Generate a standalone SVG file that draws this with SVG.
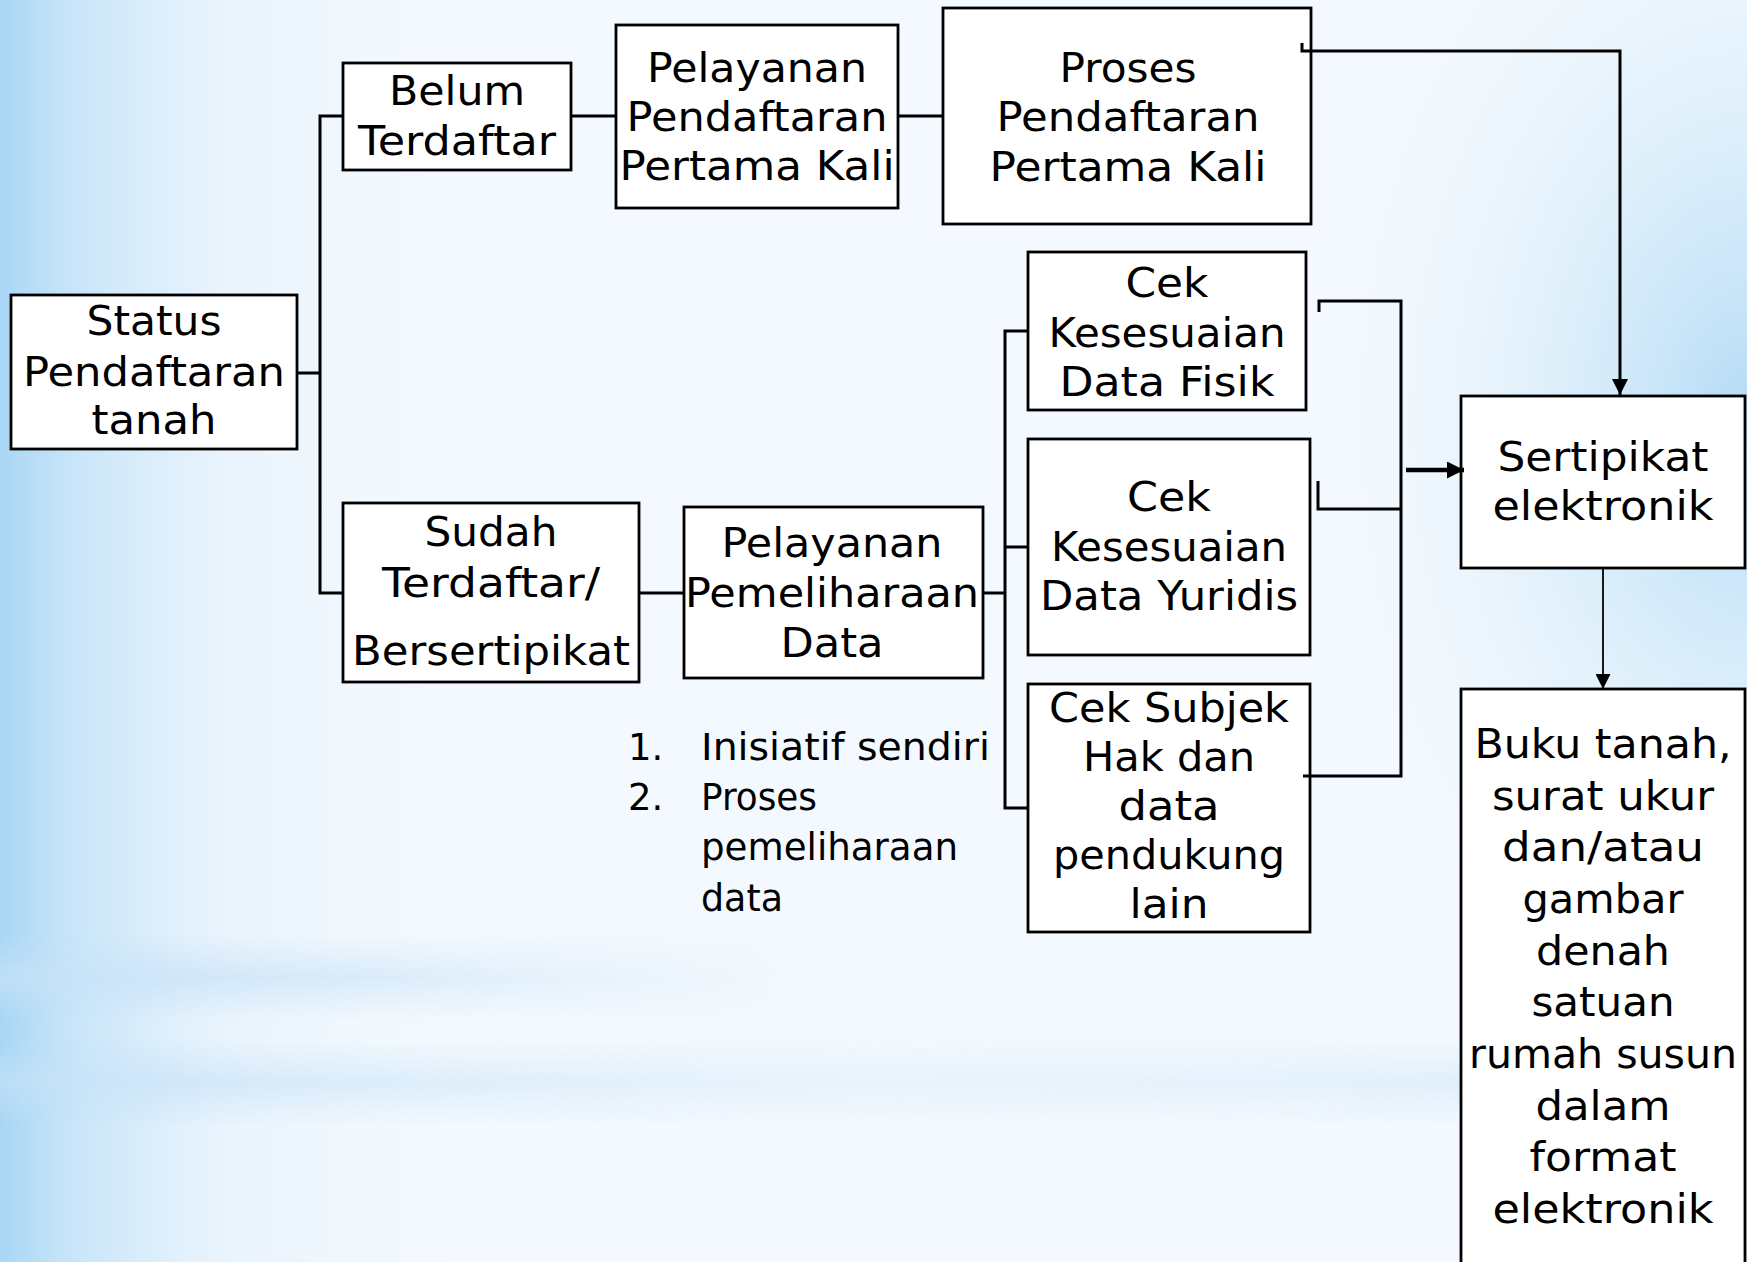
<svg xmlns="http://www.w3.org/2000/svg" width="1747" height="1262" viewBox="0 0 1747 1262">
  <defs>
    <linearGradient id="gLeft" gradientUnits="userSpaceOnUse" x1="0" y1="0" x2="650" y2="0">
      <stop offset="0" stop-color="#a8d6f5" stop-opacity="1"/>
      <stop offset="0.12" stop-color="#bfe1f8" stop-opacity="0.8"/>
      <stop offset="0.35" stop-color="#dcedfb" stop-opacity="0.45"/>
      <stop offset="0.7" stop-color="#eef6fd" stop-opacity="0"/>
    </linearGradient>
    <radialGradient id="gRight" gradientUnits="userSpaceOnUse" cx="1747" cy="420" r="420" gradientTransform="translate(1747 420) scale(1 1.5) translate(-1747 -420)">
      <stop offset="0" stop-color="#b3dbf6" stop-opacity="1"/>
      <stop offset="0.5" stop-color="#d3eaf9" stop-opacity="0.6"/>
      <stop offset="1" stop-color="#eef6fd" stop-opacity="0"/>
    </radialGradient>
    <linearGradient id="gBand1" gradientUnits="userSpaceOnUse" x1="0" y1="935" x2="0" y2="1020">
      <stop offset="0" stop-color="#c6e2f8" stop-opacity="0"/>
      <stop offset="0.5" stop-color="#c6e2f8" stop-opacity="0.75"/>
      <stop offset="1" stop-color="#c6e2f8" stop-opacity="0"/>
    </linearGradient>
    <linearGradient id="gBand2" gradientUnits="userSpaceOnUse" x1="0" y1="1040" x2="0" y2="1125">
      <stop offset="0" stop-color="#c6e2f8" stop-opacity="0"/>
      <stop offset="0.5" stop-color="#c6e2f8" stop-opacity="0.7"/>
      <stop offset="1" stop-color="#c6e2f8" stop-opacity="0"/>
    </linearGradient>
    <linearGradient id="gFade1" gradientUnits="userSpaceOnUse" x1="0" y1="0" x2="1747" y2="0">
      <stop offset="0" stop-color="#fff" stop-opacity="1"/>
      <stop offset="0.2" stop-color="#fff" stop-opacity="0.8"/>
      <stop offset="0.45" stop-color="#fff" stop-opacity="0"/>
    </linearGradient>
    <linearGradient id="gFade2" gradientUnits="userSpaceOnUse" x1="0" y1="0" x2="1747" y2="0">
      <stop offset="0" stop-color="#fff" stop-opacity="1"/>
      <stop offset="0.25" stop-color="#fff" stop-opacity="0.7"/>
      <stop offset="0.5" stop-color="#fff" stop-opacity="0.35"/>
      <stop offset="0.75" stop-color="#fff" stop-opacity="0.5"/>
      <stop offset="1" stop-color="#fff" stop-opacity="0.9"/>
    </linearGradient>
    <mask id="mBand1">
      <rect x="0" y="0" width="1747" height="1262" fill="url(#gFade1)"/>
    </mask>
    <mask id="mBand2">
      <rect x="0" y="0" width="1747" height="1262" fill="url(#gFade2)"/>
    </mask>
    <marker id="arr" viewBox="0 0 10 10" refX="10" refY="5" markerUnits="userSpaceOnUse" markerWidth="16" markerHeight="16" orient="auto">
      <path d="M0,0 L10,5 L0,10 z" fill="#000"/>
    </marker>
    <marker id="arrT" viewBox="0 0 10 10" refX="10" refY="5" markerUnits="userSpaceOnUse" markerWidth="17" markerHeight="17" orient="auto">
      <path d="M0,0 L10,5 L0,10 z" fill="#000"/>
    </marker>
    <marker id="arrS" viewBox="0 0 10 10" refX="10" refY="5" markerUnits="userSpaceOnUse" markerWidth="15" markerHeight="15" orient="auto">
      <path d="M0,0 L10,5 L0,10 z" fill="#000"/>
    </marker>
  </defs>
  <style>
    .box { fill: #ffffff; stroke: #000000; stroke-width: 2.8; }
    .t { font-family: "DejaVu Sans", Verdana, sans-serif; font-size: 41px; text-anchor: middle; fill: #000000; }
    .l { font-family: "DejaVu Sans", Verdana, sans-serif; font-size: 37px; fill: #000000; }
    .c { fill: none; stroke: #000000; stroke-width: 3; }
  </style>

  <g id="background">
    <rect x="0" y="0" width="1747" height="1262" fill="#f3f9fe"/>
    <rect x="0" y="0" width="1747" height="1262" fill="url(#gLeft)"/>
    <rect x="0" y="0" width="1747" height="1262" fill="url(#gRight)"/>
    <rect x="0" y="935" width="1747" height="85" fill="url(#gBand1)" mask="url(#mBand1)"/>
    <rect x="0" y="1040" width="1747" height="85" fill="url(#gBand2)" mask="url(#mBand2)"/>
  </g>

  <g id="status">
    <rect class="box" x="11" y="295" width="286" height="154"/>
    <text class="t" x="154" y="335" textLength="135" lengthAdjust="spacingAndGlyphs">Status</text>
    <text class="t" x="154" y="386" textLength="262" lengthAdjust="spacingAndGlyphs">Pendaftaran</text>
    <text class="t" x="154" y="434" textLength="125" lengthAdjust="spacingAndGlyphs">tanah</text>
  </g>

  <g id="belum">
    <rect class="box" x="343" y="63" width="228" height="107"/>
    <text class="t" x="457" y="105" textLength="136" lengthAdjust="spacingAndGlyphs">Belum</text>
    <text class="t" x="457" y="155" textLength="198" lengthAdjust="spacingAndGlyphs">Terdaftar</text>
  </g>

  <g id="pelayanan-pendaftaran">
    <rect class="box" x="616" y="25" width="282" height="183"/>
    <text class="t" x="757" y="82" textLength="220" lengthAdjust="spacingAndGlyphs">Pelayanan</text>
    <text class="t" x="757" y="131" textLength="261" lengthAdjust="spacingAndGlyphs">Pendaftaran</text>
    <text class="t" x="757" y="180" textLength="275" lengthAdjust="spacingAndGlyphs">Pertama Kali</text>
  </g>

  <g id="proses-pendaftaran">
    <rect class="box" x="943" y="8" width="368" height="216"/>
    <text class="t" x="1128" y="82" textLength="137" lengthAdjust="spacingAndGlyphs">Proses</text>
    <text class="t" x="1128" y="131" textLength="263" lengthAdjust="spacingAndGlyphs">Pendaftaran</text>
    <text class="t" x="1128" y="181" textLength="277" lengthAdjust="spacingAndGlyphs">Pertama Kali</text>
  </g>

  <g id="cek-fisik">
    <rect class="box" x="1028" y="252" width="278" height="158"/>
    <text class="t" x="1167" y="297" textLength="83" lengthAdjust="spacingAndGlyphs">Cek</text>
    <text class="t" x="1167" y="347" textLength="237" lengthAdjust="spacingAndGlyphs">Kesesuaian</text>
    <text class="t" x="1167" y="396" textLength="215" lengthAdjust="spacingAndGlyphs">Data Fisik</text>
  </g>

  <g id="cek-yuridis">
    <rect class="box" x="1028" y="439" width="282" height="216"/>
    <text class="t" x="1169" y="511" textLength="84" lengthAdjust="spacingAndGlyphs">Cek</text>
    <text class="t" x="1169" y="561" textLength="236" lengthAdjust="spacingAndGlyphs">Kesesuaian</text>
    <text class="t" x="1169" y="610" textLength="258" lengthAdjust="spacingAndGlyphs">Data Yuridis</text>
  </g>

  <g id="cek-subjek">
    <rect class="box" x="1028" y="684" width="282" height="248"/>
    <text class="t" x="1169" y="722" textLength="240" lengthAdjust="spacingAndGlyphs">Cek Subjek</text>
    <text class="t" x="1169" y="771" textLength="172" lengthAdjust="spacingAndGlyphs">Hak dan</text>
    <text class="t" x="1169" y="820" textLength="101" lengthAdjust="spacingAndGlyphs">data</text>
    <text class="t" x="1169" y="869" textLength="232" lengthAdjust="spacingAndGlyphs">pendukung</text>
    <text class="t" x="1169" y="918" textLength="79" lengthAdjust="spacingAndGlyphs">lain</text>
  </g>

  <g id="sudah">
    <rect class="box" x="343" y="503" width="296" height="179"/>
    <text class="t" x="491" y="546" textLength="133" lengthAdjust="spacingAndGlyphs">Sudah</text>
    <text class="t" x="491" y="597" textLength="218" lengthAdjust="spacingAndGlyphs">Terdaftar/</text>
    <text class="t" x="491" y="665" textLength="278" lengthAdjust="spacingAndGlyphs">Bersertipikat</text>
  </g>

  <g id="pelayanan-pemeliharaan">
    <rect class="box" x="684" y="507" width="299" height="171"/>
    <text class="t" x="832" y="557" textLength="221" lengthAdjust="spacingAndGlyphs">Pelayanan</text>
    <text class="t" x="832" y="607" textLength="294" lengthAdjust="spacingAndGlyphs">Pemeliharaan</text>
    <text class="t" x="832" y="657" textLength="103" lengthAdjust="spacingAndGlyphs">Data</text>
  </g>

  <g id="list">
    <text class="l" x="628" y="760">1.</text>
    <text class="l" x="701" y="760" textLength="289" lengthAdjust="spacingAndGlyphs">Inisiatif sendiri</text>
    <text class="l" x="628" y="810">2.</text>
    <text class="l" x="701" y="810" textLength="116" lengthAdjust="spacingAndGlyphs">Proses</text>
    <text class="l" x="701" y="860" textLength="257" lengthAdjust="spacingAndGlyphs">pemeliharaan</text>
    <text class="l" x="701" y="911" textLength="82" lengthAdjust="spacingAndGlyphs">data</text>
  </g>

  <g id="sertipikat">
    <rect class="box" x="1461" y="396" width="284" height="172"/>
    <text class="t" x="1603" y="471" textLength="211" lengthAdjust="spacingAndGlyphs">Sertipikat</text>
    <text class="t" x="1603" y="520" textLength="221" lengthAdjust="spacingAndGlyphs">elektronik</text>
  </g>

  <g id="buku-tanah">
    <rect class="box" x="1461" y="689" width="284" height="590"/>
    <text class="t" x="1603" y="758" textLength="257" lengthAdjust="spacingAndGlyphs">Buku tanah,</text>
    <text class="t" x="1603" y="810" textLength="222" lengthAdjust="spacingAndGlyphs">surat ukur</text>
    <text class="t" x="1603" y="861" textLength="202" lengthAdjust="spacingAndGlyphs">dan/atau</text>
    <text class="t" x="1603" y="913" textLength="161" lengthAdjust="spacingAndGlyphs">gambar</text>
    <text class="t" x="1603" y="965" textLength="134" lengthAdjust="spacingAndGlyphs">denah</text>
    <text class="t" x="1603" y="1016" textLength="143" lengthAdjust="spacingAndGlyphs">satuan</text>
    <text class="t" x="1603" y="1068" textLength="268" lengthAdjust="spacingAndGlyphs">rumah susun</text>
    <text class="t" x="1603" y="1120" textLength="135" lengthAdjust="spacingAndGlyphs">dalam</text>
    <text class="t" x="1603" y="1171" textLength="147" lengthAdjust="spacingAndGlyphs">format</text>
    <text class="t" x="1603" y="1223" textLength="221" lengthAdjust="spacingAndGlyphs">elektronik</text>
  </g>

  <g id="connectors">
    <path class="c" d="M297,373 H320"/>
    <path class="c" d="M343,116 H320 V593 H343"/>
    <path class="c" d="M571,116 H616"/>
    <path class="c" d="M898,116 H943"/>
    <path class="c" d="M1302,43 V51 H1620 V395" marker-end="url(#arr)"/>
    <path class="c" d="M639,593 H684"/>
    <path class="c" d="M983,593 H1005"/>
    <path class="c" d="M1028,331 H1005 V808 H1028"/>
    <path class="c" d="M1005,547 H1028"/>
    <path class="c" d="M1319,312 V301 H1401 V776 H1303"/>
    <path class="c" d="M1318,481 V509 H1401"/>
    <path fill="none" stroke="#000" stroke-width="4.5" d="M1406,470 H1464" marker-end="url(#arrT)"/>
    <path fill="none" stroke="#000" stroke-width="1.8" d="M1603,568 V689" marker-end="url(#arrS)"/>
  </g>
</svg>
